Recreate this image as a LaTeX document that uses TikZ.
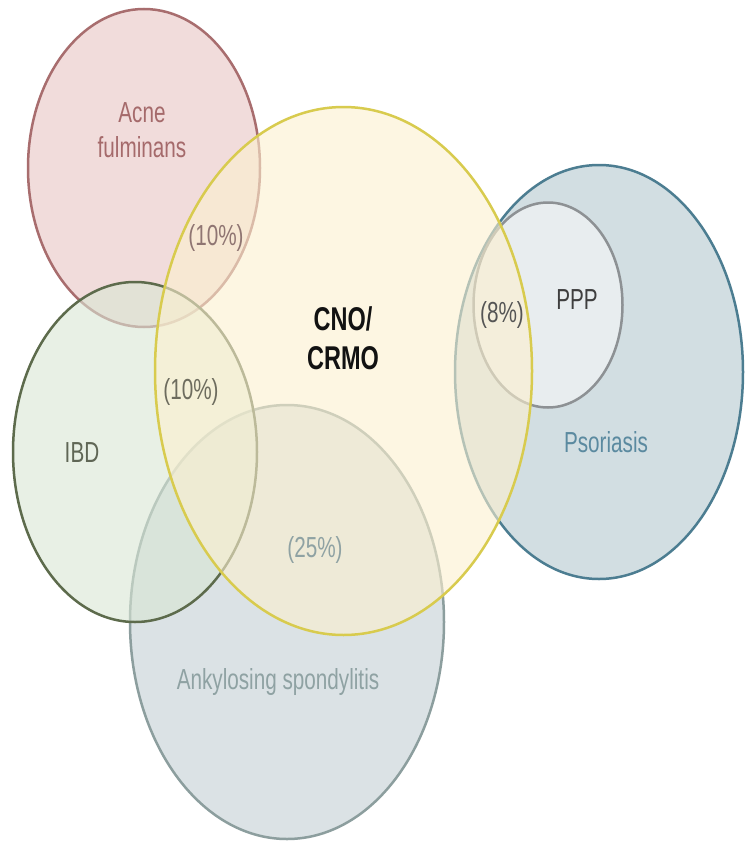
\documentclass[tikz,border=0pt]{standalone}
\usepackage{fontspec}
\setmainfont{Liberation Sans}
\usepackage{graphicx}
\definecolor{acneF}{HTML}{E8C6C3}\definecolor{acneD}{HTML}{A86D6E}\definecolor{acneT}{HTML}{A56A6B}
\definecolor{cnoF}{HTML}{FCF0CF}\definecolor{cnoD}{HTML}{D8CB4E}
\definecolor{ibdF}{HTML}{D9E6D4}\definecolor{ibdD}{HTML}{5D6B4C}\definecolor{ibdT}{HTML}{5F6655}
\definecolor{ankF}{HTML}{C3D0D5}\definecolor{ankD}{HTML}{8C9E9E}\definecolor{ankT}{HTML}{8FA2A3}
\definecolor{psoF}{HTML}{B4C8CF}\definecolor{psoD}{HTML}{4C7D91}\definecolor{psoT}{HTML}{5B8AA0}
\definecolor{pppF}{HTML}{F7F7F9}\definecolor{pppD}{HTML}{8D9194}\definecolor{pppT}{HTML}{3F3F3F}
\definecolor{tenA}{HTML}{8F7572}\definecolor{tenB}{HTML}{6D6C5E}\definecolor{eightT}{HTML}{555555}
\newcommand{\vs}[1]{\scalebox{1}[1.4]{#1}}
\tikzset{
  setshape/.style={line width=2.5pt, fill opacity=0.6, draw opacity=1},
  lbl/.style={inner sep=0pt, font=\fontsize{20.7}{25}\selectfont},
  boldlbl/.style={inner sep=0pt, font=\fontsize{23.5}{28.5}\selectfont\bfseries, text=black!93}
}
\begin{document}
\begin{tikzpicture}[x=1pt,y=-1pt]
\useasboundingbox (0,0) rectangle (744,843);
\fill[white] (0,0) rectangle (744,843);
% sets
\path[setshape, fill=acneF, draw=acneD] (144,168) ellipse [x radius=116pt, y radius=159pt];
\path[setshape, fill=ankF, draw=ankD] (287,622) ellipse [x radius=157pt, y radius=217pt];
\path[setshape, fill=ibdF, draw=ibdD] (135,452) ellipse [x radius=122pt, y radius=170pt];
\path[setshape, fill=psoF, draw=psoD] (599,372) ellipse [x radius=144pt, y radius=207pt];
\path[setshape, fill=pppF, draw=pppD] (548,305) ellipse [x radius=74.5pt, y radius=102.5pt];
\path[setshape, fill=cnoF, draw=cnoD] (343.5,371) ellipse [x radius=188.5pt, y radius=264pt];
% labels
\node[lbl, text=acneT] (acne) at (142,133) {\vs{\begin{tabular}{@{}c@{}}Acne\\fulminans\end{tabular}}};
\node[lbl, text=tenA] (p10a) at (216,238) {\vs{(10\%)}};
\node[boldlbl] (cno) at (343,342) {\vs{\begin{tabular}{@{}c@{}}CNO/\\CRMO\end{tabular}}};
\node[lbl, text=tenB] (p10b) at (191,392) {\vs{(10\%)}};
\node[lbl, text=ibdT] (ibd) at (82,453) {\vs{IBD}};
\node[lbl, text=ankT] (p25) at (315,550) {\vs{(25\%)}};
\node[lbl, text=ankT] (ank) at (278,682) {\vs{Ankylosing spondylitis}};
\node[lbl, text=eightT] (p8) at (502,315) {\vs{(8\%)}};
\node[lbl, text=pppT] (ppp) at (577,300) {\vs{PPP}};
\node[lbl, text=psoT] (pso) at (606,442) {\vs{Psoriasis}};
\end{tikzpicture}
\end{document}
